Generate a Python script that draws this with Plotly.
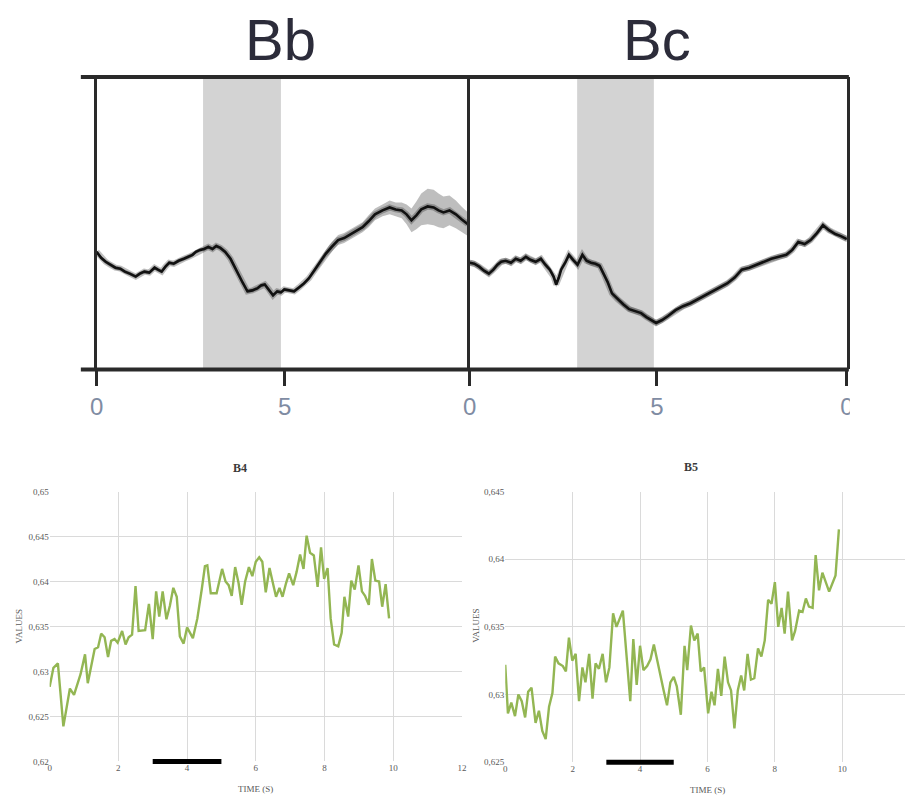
import plotly.graph_objects as go

W, H = 912, 801

# ---------------- data ----------------
# Panel Bb (top-left), time in s, signal in arbitrary units
t_bb = [0.0,0.12,0.24,0.36,0.5,0.63,0.75,0.88,1.04,1.15,1.27,1.4,1.54,1.63,1.73,1.83,1.93,2.05,2.18,2.32,
        2.45,2.55,2.64,2.75,2.86,2.97,3.08,3.18,3.29,3.42,3.56,3.65,3.75,3.88,4.01,4.14,4.27,4.37,4.47,4.58,
        4.69,4.8,4.9,4.99,5.12,5.25,5.38,5.51,5.64,5.77,5.93,6.09,6.25,6.42,6.58,6.75,6.9,7.07,7.23,7.4,
        7.6,7.79,7.95,8.11,8.24,8.37,8.5,8.63,8.8,8.96,9.09,9.22,9.38,9.55,9.7,9.87]
v_bb = [119,113,109,106,103,102,99,97,94,97,99,98,103,101,99,104,108,107,110,112,
        114,116,119,121,122,124,122,125,123,119,112,105,97,88,79,80,82,85,86,81,
        75,79,78,81,80,79,83,87,92,99,108,117,124,131,133,137,140,144,150,157,
        161,164,162,161,157,151,156,162,165,164,161,159,161,157,152,147]
e_bb = [2,2,2,2,2,2,2,2,2,2,2,2,2,2,2,2,2,2,2,2,
        2,2,2,2,2,2,2,2,2,2,2,2,2,2,2,2,2,2,2,2,
        2,2,2,2,2,2,2,2,2,3,4,4,5,5,5,5,5,5,6,6,
        6,7,7,8,10,12,14,16,18,18,17,16,15,14,13,12]

# Panel Bc (top-right)
t_bc = [0.0,0.12,0.25,0.38,0.51,0.63,0.74,0.84,0.96,1.1,1.23,1.36,1.5,1.62,1.76,1.9,2.02,2.14,2.24,2.31,
        2.38,2.44,2.55,2.65,2.76,2.88,3.01,3.12,3.24,3.36,3.47,3.58,3.69,3.8,3.95,4.1,4.26,4.42,4.58,4.72,
        4.85,4.98,5.14,5.3,5.5,5.7,5.9,6.09,6.29,6.49,6.68,6.88,7.08,7.27,7.47,7.67,7.86,8.06,8.26,8.46,
        8.62,8.78,8.95,9.11,9.28,9.44,9.6,9.77,9.92,10.08]
v_bc = [108,107,104,100,97,101,106,109,110,108,112,110,114,111,109,112,106,101,94,86,
        93,101,108,116,111,106,116,110,108,107,105,97,88,77,71,66,61,59,57,53,
        50,47,50,54,60,64,67,71,75,79,83,87,93,101,103,106,109,112,114,116,
        121,129,127,131,138,146,141,137,135,132]
e_bc = [3] * len(t_bc)

stim_bb = [2.83, 4.9]
stim_bc = [2.87, 4.92]

# Panel B4 (bottom-left)
t_b4 = [0.0,0.11,0.24,0.4,0.59,0.71,0.9,1.03,1.11,1.31,1.41,1.5,1.6,1.7,1.79,1.89,1.98,2.11,2.21,2.3,
        2.4,2.5,2.59,2.78,2.89,3.0,3.1,3.19,3.29,3.4,3.5,3.6,3.7,3.79,3.9,4.0,4.17,4.3,4.43,4.52,
        4.59,4.69,4.86,5.02,5.12,5.21,5.3,5.4,5.5,5.59,5.69,5.8,5.9,6.0,6.1,6.19,6.29,6.4,6.5,6.59,
        6.69,6.78,6.88,6.97,7.09,7.19,7.29,7.39,7.48,7.58,7.69,7.8,7.9,7.99,8.09,8.18,8.28,8.4,8.5,8.58,
        8.69,8.78,8.88,8.99,9.09,9.18,9.29,9.38,9.48,9.59,9.68,9.78,9.88]
v_b4 = [0.6283,0.6304,0.6309,0.6239,0.6281,0.6274,0.6297,0.6319,0.6287,0.6325,0.6327,0.6342,0.6338,0.6316,0.6334,0.6336,0.6332,0.6345,0.6330,0.6338,
        0.6341,0.6395,0.6345,0.6346,0.6375,0.6336,0.6389,0.6361,0.6389,0.6358,0.6373,0.6393,0.6383,0.6339,0.6331,0.6349,0.6337,0.6359,0.6392,0.6417,
        0.6418,0.6387,0.6387,0.6414,0.6400,0.6396,0.6384,0.6416,0.6398,0.6374,0.6400,0.6416,0.6406,0.6422,0.6427,0.6422,0.6388,0.6415,0.6398,0.6383,
        0.6393,0.6383,0.6398,0.6409,0.6396,0.6411,0.6430,0.6414,0.6451,0.6432,0.6429,0.6394,0.6438,0.6403,0.6415,0.6359,0.6330,0.6328,0.6343,0.6383,
        0.6361,0.6401,0.6391,0.6418,0.6389,0.6384,0.6374,0.6425,0.6401,0.6400,0.6372,0.6397,0.6359]

# Panel B5 (bottom-right)
t_b5 = [0.0,0.08,0.18,0.29,0.39,0.49,0.59,0.68,0.78,0.9,1.0,1.1,1.2,1.3,1.4,1.48,1.58,1.71,1.8,1.89,
        1.99,2.09,2.19,2.29,2.38,2.49,2.59,2.68,2.78,2.89,2.99,3.09,3.2,3.3,3.49,3.71,3.8,3.9,4.0,4.1,
        4.21,4.31,4.41,4.51,4.6,4.7,4.8,4.9,5.0,5.09,5.21,5.32,5.4,5.51,5.61,5.71,5.8,5.9,6.02,6.12,
        6.21,6.31,6.41,6.51,6.61,6.7,6.8,6.9,7.0,7.09,7.19,7.29,7.39,7.5,7.6,7.7,7.8,7.9,8.0,8.1,
        8.2,8.29,8.39,8.51,8.6,8.72,8.82,8.92,9.01,9.12,9.21,9.31,9.41,9.61,9.8,9.9]
v_b5 = [0.6322,0.6286,0.6294,0.6284,0.6300,0.6295,0.6283,0.6302,0.6305,0.6279,0.6288,0.6273,0.6267,0.6291,0.6301,0.6328,0.6323,0.6321,0.6317,0.6342,
        0.6325,0.6330,0.6295,0.6320,0.6309,0.6330,0.6297,0.6323,0.6319,0.6330,0.6309,0.6320,0.6360,0.6350,0.6362,0.6295,0.6341,0.6307,0.6336,0.6318,
        0.6321,0.6326,0.6337,0.6325,0.6313,0.6303,0.6292,0.6309,0.6313,0.6306,0.6285,0.6336,0.6318,0.6351,0.6340,0.6345,0.6317,0.6320,0.6286,0.6302,
        0.6292,0.6319,0.6299,0.6328,0.6309,0.6303,0.6275,0.6303,0.6314,0.6303,0.6330,0.6311,0.6312,0.6334,0.6328,0.6340,0.6370,0.6367,0.6383,0.6350,
        0.6364,0.6345,0.6376,0.6340,0.6347,0.6362,0.6361,0.6371,0.6365,0.6364,0.6403,0.6377,0.6390,0.6376,0.6388,0.6422]

stim_bar = [3, 5]

b4_yticks = [0.62, 0.625, 0.63, 0.635, 0.64, 0.645, 0.65]
b4_ylabels = ["0,62", "0,625", "0,63", "0,635", "0,64", "0,645", "0,65"]
b5_yticks = [0.625, 0.63, 0.635, 0.64, 0.645]
b5_ylabels = ["0,625", "0,63", "0,635", "0,64", "0,645"]
b_xticks = [0, 2, 4, 6, 8, 10, 12]


# ---------------- layout helpers (page pixel -> paper fraction) ----------------
def px(x):
    return min(1.0, max(0.0, x / W))


def py(y):
    return min(1.0, max(0.0, 1 - y / H))


GREEN = "#93b653"
GRID = "#dadada"
TICKF = dict(family="Liberation Serif", size=9, color="#595959")

fig = go.Figure()


def band(t, v, e, xa, ya):
    up = [a + b for a, b in zip(v, e)]
    lo = [a - b for a, b in zip(v, e)]
    fig.add_trace(go.Scatter(x=t + t[::-1], y=up + lo[::-1], fill="toself",
                             fillcolor="rgba(110,110,110,0.45)", line=dict(width=0),
                             mode="lines", xaxis=xa, yaxis=ya, hoverinfo="skip"))
    fig.add_trace(go.Scatter(x=t, y=v, mode="lines", line=dict(color="rgba(0,0,0,0.25)", width=6),
                             xaxis=xa, yaxis=ya, hoverinfo="skip"))
    fig.add_trace(go.Scatter(x=t, y=v, mode="lines", line=dict(color="#111111", width=2.6),
                             xaxis=xa, yaxis=ya))


band(t_bb, v_bb, e_bb, "x", "y")
band(t_bc, v_bc, e_bc, "x2", "y2")

fig.add_trace(go.Scatter(x=t_b4, y=v_b4, mode="lines", line=dict(color=GREEN, width=2.4),
                         xaxis="x3", yaxis="y3"))
fig.add_trace(go.Scatter(x=t_b5, y=v_b5, mode="lines", line=dict(color=GREEN, width=2.4),
                         xaxis="x4", yaxis="y4"))

top_y_dom = [py(369), py(73)]
toptick = dict(family="Liberation Sans", size=24, color="#7f8ca3")
AX = "#2a2a2a"

b5_x0, b5_scale = 506, 34.23          # page px of t=0 and px per second in B5
b5_xmax = (W - b5_x0) / b5_scale

fig.update_layout(
    width=W, height=H, margin=dict(l=0, r=0, t=0, b=0),
    paper_bgcolor="white", plot_bgcolor="rgba(0,0,0,0)", showlegend=False,
    xaxis=dict(domain=[px(91), px(470)], range=[0, 9.92], tickvals=[0, 5], ticktext=["0", "5"],
               ticks="outside", ticklen=16, tickwidth=3, tickcolor=AX, showgrid=False,
               zeroline=False, showline=False, tickfont=toptick),
    yaxis=dict(domain=top_y_dom, range=[0, 296], showticklabels=False, ticks="",
               showgrid=False, zeroline=False, showline=True, linecolor=AX, linewidth=3),
    xaxis2=dict(domain=[px(470), px(853)], range=[0, 10.08], tickvals=[0, 5, 10.08],
                ticktext=["0", "5", "0"], anchor="y2",
                ticks="outside", ticklen=16, tickwidth=3, tickcolor=AX, showgrid=False,
                zeroline=False, showline=False, tickfont=toptick),
    yaxis2=dict(domain=top_y_dom, range=[0, 296], showticklabels=False, ticks="", anchor="x2",
                showgrid=False, zeroline=False, showline=True, mirror=True, linecolor=AX, linewidth=3),
    xaxis3=dict(domain=[px(43.3), px(462)], range=[0, 12], tickvals=b_xticks, anchor="y3",
                showgrid=True, gridcolor=GRID, gridwidth=1, zeroline=False, showline=False,
                ticks="", tickfont=TICKF),
    yaxis3=dict(domain=[py(766), py(492.7)], range=[0.62, 0.65], tickvals=b4_yticks,
                ticktext=b4_ylabels, anchor="x3", showgrid=True, gridcolor=GRID, gridwidth=1,
                zeroline=False, showline=False, ticks="", tickfont=TICKF),
    xaxis4=dict(domain=[px(b5_x0), 1.0], range=[0, b5_xmax], tickvals=b_xticks, anchor="y4",
                showgrid=True, gridcolor=GRID, gridwidth=1, zeroline=False, showline=False,
                ticks="", tickfont=TICKF),
    yaxis4=dict(domain=[py(766.7), py(492.7)], range=[0.625, 0.645], tickvals=b5_yticks,
                ticktext=b5_ylabels, anchor="x4", showgrid=True, gridcolor=GRID, gridwidth=1,
                zeroline=False, showline=False, ticks="", tickfont=TICKF),
)

shapes = []
# stimulus shading on top panels
for xr, (a, b) in (("x", stim_bb), ("x2", stim_bc)):
    shapes.append(dict(type="rect", xref=xr, yref=xr.replace("x", "y") + " domain", x0=a, x1=b,
                       y0=0, y1=1, fillcolor="#d3d3d3", line=dict(width=0), layer="below"))
# top frame horizontal lines
for yy in (73, 369):
    shapes.append(dict(type="line", xref="paper", yref="paper", x0=px(75), x1=px(855),
                       y0=py(yy), y1=py(yy), line=dict(color=AX, width=4), layer="above"))
# stimulus bars in bottom panels
for xr, yr in (("x3", "y3 domain"), ("x4", "y4 domain")):
    shapes.append(dict(type="line", xref=xr, yref=yr, x0=stim_bar[0], x1=stim_bar[1], y0=0, y1=0,
                       line=dict(color="black", width=5), layer="above"))
# crop of the last top tick label
shapes.append(dict(type="rect", xref="paper", yref="paper", x0=px(856), x1=1.0, y0=py(425),
                   y1=py(388), fillcolor="white", line=dict(width=0), layer="above"))
fig.update_layout(shapes=shapes)

TITLE_TOP = dict(family="Liberation Sans", size=58, color="#2c2c3a")
TITLE_BOT = dict(family="Liberation Serif", size=12, color="#3a3a3a")
AXT = dict(family="Liberation Serif", size=9, color="#595959")
ann = [
    dict(text="Bb", x=px(278), y=py(35), font=TITLE_TOP),
    dict(text="Bc", x=px(660), y=py(35), font=TITLE_TOP),
    dict(text="<b>B4</b>", x=px(237), y=py(469), font=TITLE_BOT),
    dict(text="<b>B5</b>", x=px(695), y=py(468), font=TITLE_BOT),
    dict(text="VALUES", x=px(12.5), y=py(629), font=AXT, textangle=-90),
    dict(text="VALUES", x=px(476), y=py(629), font=AXT, textangle=-90),
    dict(text="TIME (S)", x=px(252), y=py(794), font=AXT),
    dict(text="TIME (S)", x=px(711), y=py(795), font=AXT),
]
for a in ann:
    a.update(xref="paper", yref="paper", showarrow=False, xanchor="center", yanchor="middle")
fig.update_layout(annotations=ann)

fig.write_html("out.html", config={"displayModeBar": False},
               post_script="document.body.style.margin='0';document.body.style.overflow='hidden';")
